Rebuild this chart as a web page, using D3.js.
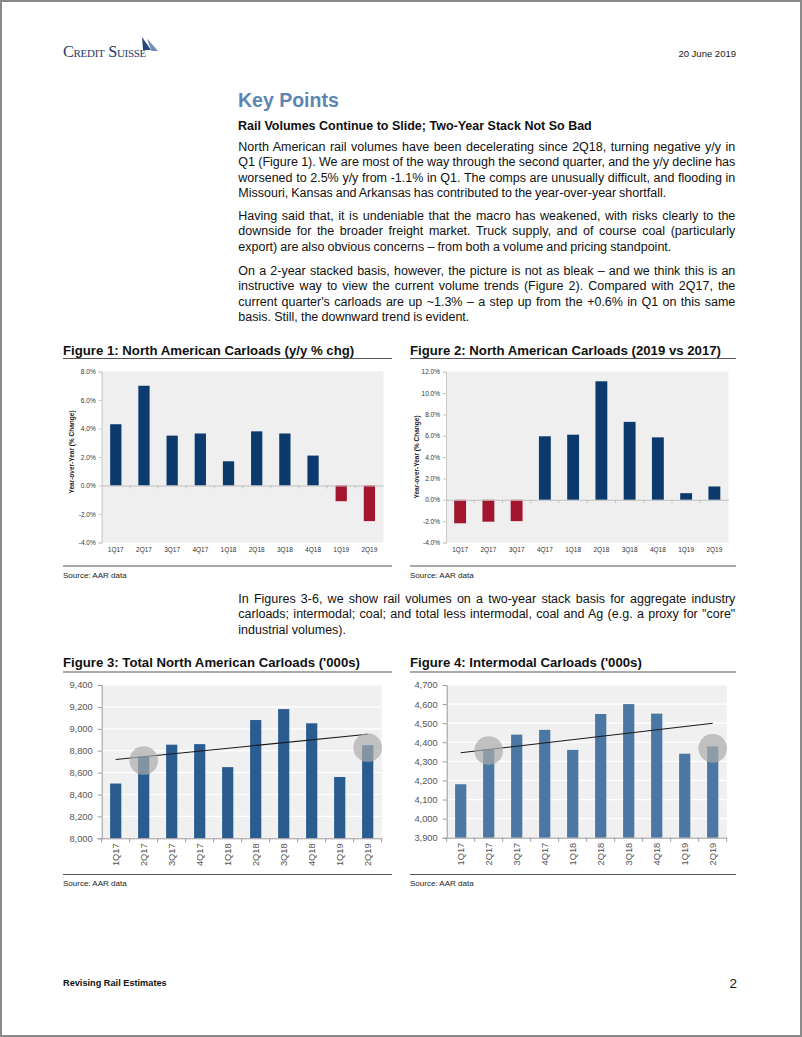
<!DOCTYPE html>
<html><head><meta charset="utf-8">
<script src="https://cdn.jsdelivr.net/npm/d3@7"></script>
<style>
html,body{margin:0;padding:0;background:#fff;}
svg{display:block;}
</style></head>
<body>
<svg id="page" width="802" height="1037"></svg>
<script>
// ---------- DATA ----------
const quarters = ["1Q17","2Q17","3Q17","4Q17","1Q18","2Q18","3Q18","4Q18","1Q19","2Q19"];
const yoyChange = [4.3, 7.0, 3.5, 3.65, 1.7, 3.8, 3.65, 2.1, -1.1, -2.5];
const twoYearChange = [-2.2, -2.05, -2.0, 5.95, 6.1, 11.1, 7.3, 5.85, 0.62, 1.25];
const totalCarloads = [8500, 8745, 8855, 8860, 8650, 9080, 9180, 9050, 8560, 8850];
const intermodalCarloads = [4180, 4362, 4440, 4465, 4360, 4548, 4600, 4550, 4340, 4378];
const totalTrend = [["1Q17", 8720], ["2Q19", 8950]];
const intermodalTrend = [["1Q17", 4345], ["2Q19", 4500]];
const totalHighlights = [["2Q17", 8710], ["2Q19", 8828]];
const intermodalHighlights = [["2Q17", 4356], ["2Q19", 4368]];
const pctTicks1 = [-4, -2, 0, 2, 4, 6, 8];
const pctTicks2 = [-4, -2, 0, 2, 4, 6, 8, 10, 12];
const totalTicks = [8000, 8200, 8400, 8600, 8800, 9000, 9200, 9400];
const intermodalTicks = [3900, 4000, 4100, 4200, 4300, 4400, 4500, 4600, 4700];

const paragraphs = [
 {y:150.7, lastW:428, lines:[
  "North American rail volumes have been decelerating since 2Q18, turning negative y/y in",
  "Q1 (Figure 1). We are most of the way through the second quarter, and the y/y decline has",
  "worsened to 2.5% y/y from -1.1% in Q1. The comps are unusually difficult, and flooding in",
  "Missouri, Kansas and Arkansas has contributed to the year-over-year shortfall."]},
 {y:220, lastW:433, lines:[
  "Having said that, it is undeniable that the macro has weakened, with risks clearly to the",
  "downside for the broader freight market. Truck supply, and of course coal (particularly",
  "export) are also obvious concerns \u2013 from both a volume and pricing standpoint."]},
 {y:275, lastW:231, lines:[
  "On a 2-year stacked basis, however, the picture is not as bleak \u2013 and we think this is an",
  "instructive way to view the current volume trends (Figure 2). Compared with 2Q17, the",
  "current quarter's carloads are up ~1.3% \u2013 a step up from the +0.6% in Q1 on this same",
  "basis. Still, the downward trend is evident."]},
 {y:603, lastW:null, lines:[
  "In Figures 3-6, we show rail volumes on a two-year stack basis for aggregate industry",
  "carloads; intermodal; coal; and total less intermodal, coal and Ag (e.g. a proxy for \"core\"",
  "industrial volumes)."]}
];

// ---------- PAGE ----------
const svg = d3.select("#page");
const SANS = "'Liberation Sans', Arial, sans-serif";

svg.append("rect").attr("x",1).attr("y",1).attr("width",800).attr("height",1035)
  .attr("fill","#fff").attr("stroke","#8a8a8a").attr("stroke-width",2);

// logo
const logo = svg.append("g");
logo.append("text").attr("x",63).attr("y",57).attr("font-family","'Liberation Serif', serif")
  .attr("font-size",16.3).attr("fill","#1e3a6b").attr("font-variant","small-caps")
  .attr("letter-spacing",-0.3).text("Credit Suisse");
logo.append("path").attr("d","M142,37 L151,50 L143,50 Z").attr("fill","#27467a");
logo.append("path").attr("d","M147,38.5 L158,51 L151.5,51 Z").attr("fill","#6f8db8");

svg.append("text").attr("x",736).attr("y",57).attr("text-anchor","end")
  .attr("font-family",SANS).attr("font-size",9.5).attr("fill","#222").text("20 June 2019");

// heading
svg.append("text").attr("x",238).attr("y",106.5).attr("font-family",SANS).attr("font-weight","bold")
  .attr("font-size",19.5).attr("fill","#5b86b4").text("Key Points");
svg.append("text").attr("x",238).attr("y",130).attr("font-family",SANS).attr("font-weight","bold")
  .attr("font-size",12.5).attr("fill","#111").text("Rail Volumes Continue to Slide; Two-Year Stack Not So Bad");

// justified body text
const textX = 238.3, textW = 497;
paragraphs.forEach(p => {
  p.lines.forEach((ln, i) => {
    const t = svg.append("text").attr("x",textX).attr("y",p.y + i*15.45)
      .attr("font-family",SANS).attr("font-size",12.5).attr("fill","#111")
      .attr("xml:space","preserve").text(ln);
    const target = (i < p.lines.length - 1) ? textW : p.lastW;
    if (target == null) return;
    const len = t.node().getComputedTextLength();
    const spaces = (ln.match(/ /g) || []).length;
    if (spaces > 0) t.attr("word-spacing", (target - len) / spaces);
  });
});

// footer
svg.append("text").attr("x",63).attr("y",986).attr("font-family",SANS).attr("font-weight","bold")
  .attr("font-size",9.2).attr("fill","#111").text("Revising Rail Estimates");
svg.append("text").attr("x",737).attr("y",988).attr("text-anchor","end").attr("font-family",SANS)
  .attr("font-size",13.5).attr("fill","#111").text("2");

// ---------- CHART HELPERS ----------
function panelFrame(x0, x1, titleY, lineY, srcLineY, title) {
  svg.append("text").attr("x",x0).attr("y",titleY).attr("font-family",SANS).attr("font-weight","bold")
    .attr("font-size",13.2).attr("fill","#111").text(title);
  svg.append("line").attr("x1",x0).attr("x2",x1).attr("y1",lineY).attr("y2",lineY)
    .attr("stroke","#555").attr("stroke-width",1);
  svg.append("line").attr("x1",x0).attr("x2",x1).attr("y1",srcLineY).attr("y2",srcLineY)
    .attr("stroke","#555").attr("stroke-width",1);
  svg.append("text").attr("x",x0).attr("y",srcLineY+11.5).attr("font-family",SANS)
    .attr("font-size",8).attr("fill","#222").text("Source: AAR data");
}

function pctChart(o) {
  const g = svg.append("g");
  const x = d3.scaleBand().domain(quarters).range([o.x0, o.x1]).paddingInner(o.pad).paddingOuter(o.pad/2);
  const y = d3.scaleLinear().domain([o.ticks[0], o.ticks[o.ticks.length-1]]).range([o.yb, o.yt]);
  g.append("rect").attr("x",o.x0).attr("y",o.yt).attr("width",o.x1-o.x0).attr("height",o.yb-o.yt).attr("fill","#efefef");
  g.selectAll("rect.bar").data(o.values).join("rect").attr("class","bar")
    .attr("x",(d,i)=>x(quarters[i])).attr("width",x.bandwidth())
    .attr("y",d=>y(Math.max(0,d))).attr("height",d=>Math.abs(y(d)-y(0)))
    .attr("fill",d=>d<0?"#a3142f":"#0c3a6d");
  const ya = d3.axisLeft(y).tickValues(o.ticks).tickFormat(d=>d.toFixed(1)+"%").tickSize(3).tickPadding(3);
  const ay = g.append("g").attr("transform",`translate(${o.x0},0)`).call(ya);
  ay.select(".domain").attr("stroke","#c8c8c8");
  ay.selectAll(".tick line").attr("stroke","#c8c8c8");
  ay.selectAll("text").attr("font-family",SANS).attr("font-size",6.5).attr("fill","#333");
  const xa = d3.axisBottom(x).tickSize(0).tickPadding(0).tickFormat(()=>"");
  const ax = g.append("g").attr("transform",`translate(0,${y(0)})`).call(xa);
  ax.select(".domain").attr("stroke","#c0c0c0");
  g.selectAll("line.sep").data(quarters.slice(1)).join("line").attr("class","sep")
    .attr("x1",d=>x(d)-x.step()*x.paddingInner()/2).attr("x2",d=>x(d)-x.step()*x.paddingInner()/2)
    .attr("y1",y(0)).attr("y2",y(0)+3).attr("stroke","#c0c0c0");
  g.selectAll("text.xl").data(quarters).join("text").attr("class","xl")
    .attr("x",d=>x(d)+x.bandwidth()/2).attr("y",o.yb+9.5).attr("text-anchor","middle")
    .attr("font-family",SANS).attr("font-size",6.5).attr("fill","#333").text(d=>d);
  g.append("text").attr("transform",`translate(${o.titleX},${o.titleYc}) rotate(-90)`)
    .attr("text-anchor","middle").attr("font-family",SANS).attr("font-weight","bold")
    .attr("font-size",6.5).attr("fill","#222").text("Year-over-Year (% Change)");
}

function volChart(o) {
  const g = svg.append("g");
  const x = d3.scaleBand().domain(quarters).range([o.x0, o.x1]).paddingInner(0.6).paddingOuter(0.3);
  const y = d3.scaleLinear().domain([o.ticks[0], o.ticks[o.ticks.length-1]]).range([o.yb, o.yt]);
  const cx = d => x(d) + x.bandwidth()/2;
  g.append("rect").attr("x",o.x0).attr("y",o.yt).attr("width",o.x1-o.x0).attr("height",o.yb-o.yt).attr("fill","#f0f0f0");
  g.selectAll("line.grid").data(o.ticks.slice(1)).join("line").attr("class","grid")
    .attr("x1",o.x0).attr("x2",o.x1).attr("y1",d=>y(d)).attr("y2",d=>y(d)).attr("stroke","#fff").attr("stroke-width",1.2);
  g.selectAll("rect.bar").data(o.values).join("rect").attr("class","bar")
    .attr("x",(d,i)=>x(quarters[i])).attr("width",x.bandwidth())
    .attr("y",d=>y(d)).attr("height",d=>y(o.ticks[0])-y(d)).attr("fill",o.color);
  g.append("line").attr("x1",cx(o.trend[0][0])).attr("y1",y(o.trend[0][1]))
    .attr("x2",cx(o.trend[1][0])).attr("y2",y(o.trend[1][1])).attr("stroke","#1a1a1a").attr("stroke-width",1.1);
  g.selectAll("circle.hl").data(o.highlights).join("circle").attr("class","hl")
    .attr("cx",d=>cx(d[0])).attr("cy",d=>y(d[1])).attr("r",14.3)
    .attr("fill","#ababab").attr("fill-opacity",0.7);
  const ya = d3.axisLeft(y).tickValues(o.ticks).tickFormat(d3.format(",")).tickSize(4).tickPadding(5);
  const ay = g.append("g").attr("transform",`translate(${o.x0},0)`).call(ya);
  ay.select(".domain").attr("stroke","#9a9a9a");
  ay.selectAll(".tick line").attr("stroke","#9a9a9a");
  ay.selectAll("text").attr("font-family",SANS).attr("font-size",9.3).attr("fill","#555");
  const xa = d3.axisBottom(x).tickSize(0).tickFormat(()=>"");
  const ax = g.append("g").attr("transform",`translate(0,${o.yb})`).call(xa);
  ax.select(".domain").attr("stroke","#9a9a9a");
  g.selectAll("line.sep").data(d3.range(quarters.length + 1)).join("line").attr("class","sep")
    .attr("x1",i=>o.x0 + i*x.step()).attr("x2",i=>o.x0 + i*x.step())
    .attr("y1",o.yb).attr("y2",o.yb+4).attr("stroke","#9a9a9a");
  g.selectAll("text.xl").data(quarters).join("text").attr("class","xl")
    .attr("transform",d=>`translate(${cx(d)},${o.yb+5}) rotate(-90)`)
    .attr("text-anchor","end").attr("dy","0.35em")
    .attr("font-family",SANS).attr("font-size",9.3).attr("fill","#555").text(d=>d);
}

// ---------- FIGURES ----------
panelFrame(63, 392, 354.5, 358.5, 566, "Figure 1: North American Carloads (y/y % chg)");
panelFrame(410, 736, 354.5, 358.5, 566, "Figure 2: North American Carloads (2019 vs 2017)");
panelFrame(63, 392, 667, 672, 874.5, "Figure 3: Total North American Carloads ('000s)");
panelFrame(410, 736, 667, 672, 874.5, "Figure 4: Intermodal Carloads ('000s)");

pctChart({x0:101.7, x1:383.5, yt:371.5, yb:542.5, ticks:pctTicks1, values:yoyChange, pad:0.6, titleX:74, titleYc:452});
pctChart({x0:446, x1:728.5, yt:371.7, yb:542.5, ticks:pctTicks2, values:twoYearChange, pad:0.58, titleX:418.5, titleYc:457});

volChart({x0:101.7, x1:381.7, yt:685, yb:838.3, ticks:totalTicks, values:totalCarloads, color:"#2b5c90",
  trend:totalTrend, highlights:totalHighlights});
volChart({x0:446.7, x1:726.7, yt:685, yb:837.7, ticks:intermodalTicks, values:intermodalCarloads, color:"#4a77a3",
  trend:intermodalTrend, highlights:intermodalHighlights});
</script>
</body></html>
